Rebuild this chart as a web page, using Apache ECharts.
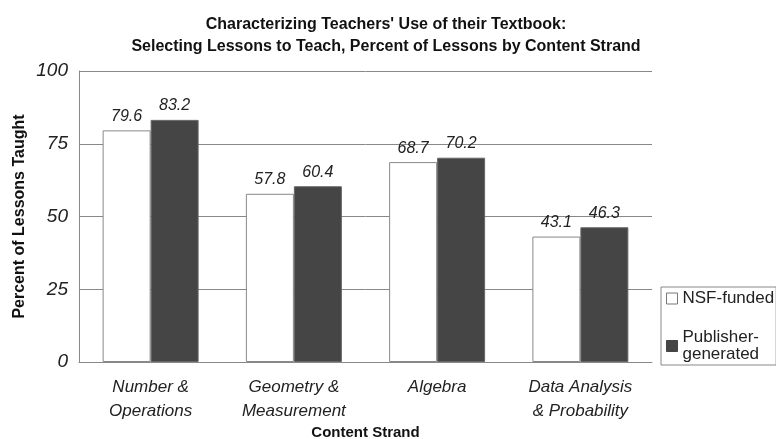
<!DOCTYPE html>
<html>
<head>
<meta charset="utf-8">
<script src="https://cdn.jsdelivr.net/npm/echarts@6/dist/echarts.min.js"></script>
<style>
html,body{margin:0;padding:0;background:#fff;}
#main{width:776px;height:439px;}
</style>
</head>
<body>
<div id="main"></div>
<script>
var categories = ['Number &\nOperations', 'Geometry &\nMeasurement', 'Algebra', 'Data Analysis\n& Probability']
var nsfValues = [79.6, 57.8, 68.7, 43.1]
var pubValues = [83.2, 60.4, 70.2, 46.3]
var yTicks = [0, 25, 50, 75, 100]

var chart = echarts.init(document.getElementById('main'))

var labelStyle = {
	show: true,
	position: 'top',
	distance: 6,
	fontFamily: 'Liberation Sans, Arial',
	fontStyle: 'italic',
	fontSize: 16,
	color: '#222',
	formatter: function(p){ return p.value.toFixed(1) }
}

var option = {
	animation: false,
	title: {
		text: "Characterizing Teachers' Use of their Textbook:\nSelecting Lessons to Teach, Percent of Lessons by Content Strand",
		left: 381,
		textAlign: 'center',
		top: 9,
		textStyle: {
			fontFamily: 'Liberation Sans, Arial',
			fontWeight: 'bold',
			fontSize: 16,
			lineHeight: 22,
			color: '#111'
		}
	},
	legend: {
		orient: 'vertical',
		left: 661,
		top: 287,
		padding: [3, 2, 2, 5],
		itemGap: 22,
		itemWidth: 11,
		itemHeight: 11,
		borderColor: '#888',
		borderWidth: 1,
		textStyle: {
			fontFamily: 'Liberation Sans, Arial',
			fontSize: 17,
			lineHeight: 17,
			color: '#222'
		},
		data: [
			{ name: 'NSF-funded', icon: 'rect', itemStyle: { color: '#fff', borderColor: '#777', borderWidth: 1 } },
			{ name: 'Publisher-\ngenerated', icon: 'rect', itemStyle: { color: '#454545', borderColor: '#454545', borderWidth: 1 } }
		]
	},
	grid: {
		left: 79,
		right: 124,
		top: 71,
		bottom: 77,
		outerBoundsMode: 'none'
	},
	xAxis: {
		type: 'category',
		data: categories,
		name: 'Content Strand',
		nameLocation: 'middle',
		nameGap: 63,
		nameMoveOverlap: false,
		nameTextStyle: {
			fontFamily: 'Liberation Sans, Arial',
			fontWeight: 'bold',
			fontSize: 15,
			color: '#111'
		},
		axisLine: { lineStyle: { color: '#888', width: 1 } },
		axisTick: { show: false },
		axisLabel: {
			margin: 13,
			fontFamily: 'Liberation Sans, Arial',
			fontStyle: 'italic',
			fontSize: 17,
			lineHeight: 24,
			color: '#222'
		}
	},
	yAxis: {
		type: 'value',
		min: 0,
		max: 100,
		interval: 25,
		name: 'Percent of Lessons Taught',
		nameLocation: 'middle',
		nameGap: 51,
		nameMoveOverlap: false,
		nameTextStyle: {
			fontFamily: 'Liberation Sans, Arial',
			fontWeight: 'bold',
			fontSize: 16,
			color: '#111'
		},
		axisLine: { show: true, lineStyle: { color: '#888', width: 1 } },
		axisTick: { show: false },
		axisLabel: {
			margin: 11,
			fontFamily: 'Liberation Sans, Arial',
			fontStyle: 'italic',
			fontSize: 19,
			color: '#222',
			formatter: function(v){ return yTicks.indexOf(v) >= 0 ? String(v) : '' }
		},
		splitLine: { show: true, lineStyle: { color: '#888', width: 1 } }
	},
	series: [
		{
			name: 'NSF-funded',
			type: 'bar',
			data: nsfValues,
			barGap: '0%',
			barCategoryGap: '33%',
			itemStyle: { color: '#fff', borderColor: '#888', borderWidth: 1 },
			label: labelStyle
		},
		{
			name: 'Publisher-\ngenerated',
			type: 'bar',
			data: pubValues,
			barGap: '0%',
			barCategoryGap: '33%',
			itemStyle: { color: '#454545', borderColor: '#666', borderWidth: 1 },
			label: labelStyle
		}
	]
}
chart.setOption(option)
</script>
</body>
</html>
